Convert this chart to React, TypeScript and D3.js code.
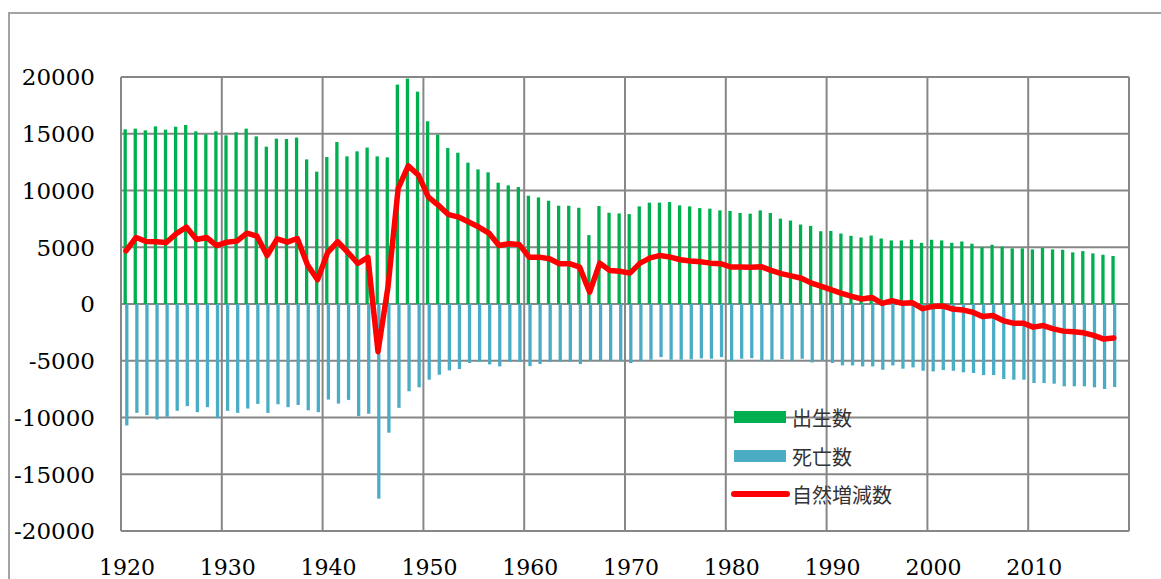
import React from "react";
import * as d3 from "d3";

const years: number[] = d3.range(1920, 2019);

const births: number[] = [
  15390, 15450, 15300, 15650, 15360, 15620, 15770, 15210, 14950, 15210,
  14860, 15130, 15450, 14770, 13860, 14570, 14540, 14660, 12740, 11660,
  12950, 14270, 13010, 13450, 13780, 13010, 12920, 19330, 19860, 18710,
  16100, 14920, 13740, 13330, 12450, 11860, 11600, 10690, 10450, 10300,
  9540, 9390, 9100, 8660, 8660, 8480, 6070, 8630, 8040, 7980,
  7920, 8600, 8930, 8930, 8980, 8690, 8600, 8450, 8400, 8250,
  8200, 8020, 7960, 8250, 8020, 7520, 7350, 7000, 6880, 6410,
  6440, 6210, 6010, 5860, 6030, 5770, 5600, 5600, 5660, 5390,
  5660, 5600, 5390, 5510, 5310, 5010, 5220, 5040, 4900, 4900,
  4810, 4930, 4810, 4780, 4550, 4660, 4460, 4340, 4230,
];

const deaths: number[] = [
  -10700, -9590, -9790, -10170, -9940, -9410, -9000, -9530, -9090, -10060,
  -9410, -9590, -9210, -8800, -9590, -8830, -9090, -8890, -9360, -9530,
  -8420, -8770, -8450, -9880, -9670, -17150, -11340, -9150, -7690, -7340,
  -6670, -6230, -5850, -5730, -5200, -5110, -5320, -5500, -5110, -5110,
  -5470, -5290, -5110, -5110, -5110, -5290, -5000, -5000, -5000, -5050,
  -5200, -5000, -4910, -4680, -4910, -4910, -4880, -4790, -4820, -4680,
  -4970, -4820, -4770, -5000, -5000, -4850, -5000, -4820, -5150, -5000,
  -5200, -5410, -5410, -5500, -5500, -5790, -5410, -5700, -5590, -5880,
  -5940, -5820, -5880, -6020, -6080, -6260, -6260, -6610, -6670, -6670,
  -6960, -6960, -7020, -7250, -7250, -7250, -7340, -7490, -7310,
];

const natural: number[] = [
  4690, 5860, 5510, 5480, 5420, 6210, 6770, 5680, 5860, 5150,
  5450, 5540, 6240, 5970, 4270, 5740, 5450, 5770, 3450, 2130,
  4530, 5500, 4560, 3570, 4110, -4200, 1580, 10180, 12170, 11370,
  9420, 8690, 7870, 7660, 7220, 6780, 6250, 5160, 5310, 5250,
  4130, 4130, 3990, 3550, 3550, 3250, 1040, 3600, 2950, 2890,
  2720, 3600, 4070, 4280, 4130, 3900, 3780, 3720, 3600, 3550,
  3260, 3250, 3240, 3290, 2970, 2680, 2480, 2270, 1840, 1550,
  1250, 930, 670, 440, 580, 60, 290, 60, 120, -410,
  -230, -170, -440, -520, -730, -1110, -1020, -1460, -1690, -1690,
  -2040, -1900, -2190, -2390, -2450, -2540, -2770, -3090, -3000,
];

const xTickLabels: number[] = [1920, 1930, 1940, 1950, 1960, 1970, 1980, 1990, 2000, 2010];
const xGrid: number[] = [1920, 1930, 1940, 1950, 1960, 1970, 1980, 1990, 2000, 2010, 2020];
const yTicks: number[] = [20000, 15000, 10000, 5000, 0, -5000, -10000, -15000, -20000];

const legendLabels: string[] = ["出生数", "死亡数", "自然増減数"];

const GREEN = "#00B050";
const BLUE = "#4BACC6";
const RED = "#FF0000";
const GRID = "#878787";

export default function App() {
  const W = 1161;
  const H = 579;
  const x = d3.scaleLinear().domain([1920, 2020]).range([121, 1129]);
  const y = d3.scaleLinear().domain([-20000, 20000]).range([531, 77]);
  const barW = 3.3;

  const line = d3
    .line<number>()
    .x((_, i) => x(years[i]) + 5)
    .y((d) => y(d));

  const serif = '"DejaVu Serif", serif';
  const cjk = '"Noto Sans CJK JP", "Noto Sans", sans-serif';

  return (
    <svg
      width={W}
      height={H}
      style={{ position: "absolute", left: 0, top: 0, background: "#fff" }}
    >
      {/* outer frame */}
      <rect x={9} y={13} width={1300} height={700} fill="#fff" stroke="#a3a3a3" strokeWidth={2} />

      {/* horizontal gridlines */}
      {yTicks.map((t) => (
        <line key={"h" + t} x1={x(1920)} x2={x(2020)} y1={y(t)} y2={y(t)} stroke={GRID} strokeWidth={2} />
      ))}
      {/* vertical gridlines */}
      {xGrid.map((t) => (
        <line key={"v" + t} x1={x(t)} x2={x(t)} y1={y(20000)} y2={y(-20000)} stroke={GRID} strokeWidth={2} />
      ))}

      {/* births bars */}
      {years.map((yr, i) => (
        <rect
          key={"b" + yr}
          x={x(yr) + 4.2 - barW / 2}
          y={y(births[i])}
          width={barW}
          height={y(0) - y(births[i])}
          fill={GREEN}
        />
      ))}
      {/* deaths bars */}
      {years.map((yr, i) => (
        <rect
          key={"d" + yr}
          x={x(yr) + 5.8 - barW / 2}
          y={y(0)}
          width={barW}
          height={y(deaths[i]) - y(0)}
          fill={BLUE}
        />
      ))}

      {/* natural increase line */}
      <path
        d={line(natural) || ""}
        fill="none"
        stroke={RED}
        strokeWidth={5.5}
        strokeLinejoin="round"
        strokeLinecap="round"
      />

      {/* y labels */}
      {yTicks.map((t) => (
        <text
          key={"yl" + t}
          x={95}
          y={y(t) + 8.4}
          textAnchor="end"
          style={{ fontFamily: serif, fontSize: "23px" }}
          fill="#000"
        >
          {t}
        </text>
      ))}

      {/* x labels */}
      {xTickLabels.map((t) => (
        <text
          key={"xl" + t}
          x={x(t) + 6}
          y={575}
          textAnchor="middle"
          style={{ fontFamily: serif, fontSize: "22px" }}
          fill="#000"
        >
          {t}
        </text>
      ))}

      {/* legend */}
      <rect x={734} y={411} width={52} height={12} fill={GREEN} />
      <rect x={734} y={450} width={52} height={12} fill={BLUE} />
      <line x1={734} x2={787} y1={494} y2={494} stroke={RED} strokeWidth={6} strokeLinecap="round" />
      {legendLabels.map((l, i) => (
        <text
          key={l}
          x={792}
          y={[417, 456, 494][i]}
          dominantBaseline="central"
          style={{ fontFamily: cjk, fontSize: "20px" }}
          fill="#333"
        >
          {l}
        </text>
      ))}
    </svg>
  );
}
